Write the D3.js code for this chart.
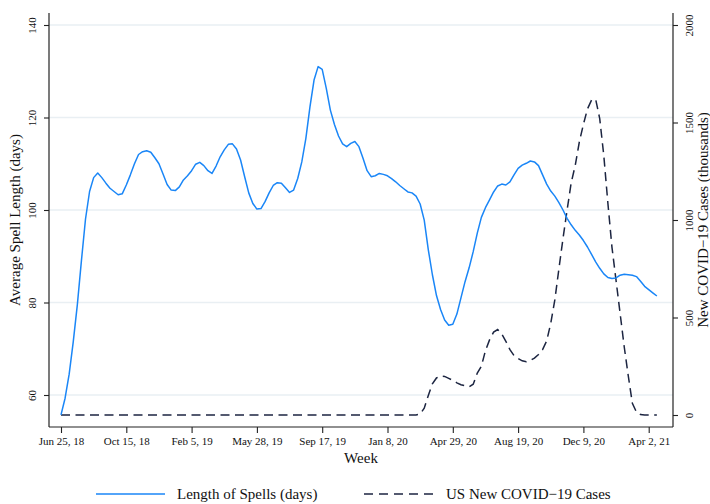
<!DOCTYPE html>
<html>
<head>
<meta charset="utf-8">
<script src="https://cdn.jsdelivr.net/npm/d3@7"></script>
<style>
  html, body { margin: 0; padding: 0; background: #fff; }
  svg { display: block; font-family: "Liberation Serif", "Times New Roman", serif; }
  svg text { font-family: "Liberation Serif", "Times New Roman", serif; }
</style>
</head>
<body>
<svg id="chart" width="710" height="504"></svg>
<script>
// Weekly series, starting the week of Jun 25, 2018
const spellLength = [
  55.7, 59.3, 64.5, 71.5, 79.5, 89.0, 98.0, 104.0, 107.0, 108.0,
  107.0, 105.8, 104.7, 104.0, 103.3, 103.5, 105.4, 107.6, 110.0, 112.0,
  112.6, 112.8, 112.5, 111.3, 110.0, 107.8, 105.5, 104.3, 104.2, 105.0,
  106.5, 107.4, 108.5, 109.9, 110.3, 109.6, 108.5, 107.9, 109.5, 111.5,
  113.0, 114.2, 114.3, 113.2, 110.8, 107.2, 103.7, 101.4, 100.2, 100.3,
  101.8, 103.7, 105.3, 105.9, 105.8, 104.8, 103.8, 104.3, 106.8, 110.4,
  115.5, 122.3, 128.1, 131.0, 130.4, 126.3, 121.6, 118.5, 116.0, 114.3,
  113.7, 114.4, 114.8, 113.7, 111.2, 108.5, 107.2, 107.4, 107.9, 107.7,
  107.4, 106.8, 106.1, 105.3, 104.6, 103.9, 103.7, 103.0, 101.3, 97.8,
  91.4, 86.0, 81.5, 78.5, 76.2, 75.1, 75.3, 77.5, 81.0, 84.5,
  87.5, 91.0, 95.0, 98.4, 100.5, 102.2, 103.9, 105.2, 105.6, 105.4,
  106.1, 107.6, 109.0, 109.7, 110.1, 110.6, 110.4, 109.6, 107.6, 105.6,
  104.1, 103.0, 101.6, 100.0, 98.2, 96.8, 95.6, 94.6, 93.4, 92.0,
  90.4, 88.8, 87.4, 86.2, 85.4, 85.2, 85.3, 85.9, 86.1, 86.0,
  85.9, 85.6, 84.6, 83.5, 82.8, 82.1, 81.4
];

// US new COVID-19 cases per week (thousands)
const covidCases = [
  0, 0, 0, 0, 0, 0, 0, 0, 0, 0,
  0, 0, 0, 0, 0, 0, 0, 0, 0, 0,
  0, 0, 0, 0, 0, 0, 0, 0, 0, 0,
  0, 0, 0, 0, 0, 0, 0, 0, 0, 0,
  0, 0, 0, 0, 0, 0, 0, 0, 0, 0,
  0, 0, 0, 0, 0, 0, 0, 0, 0, 0,
  0, 0, 0, 0, 0, 0, 0, 0, 0, 0,
  0, 0, 0, 0, 0, 0, 0, 0, 0, 0,
  0, 0, 0, 0, 0, 0, 0, 0, 5, 35,
  100, 160, 190, 200, 198, 188, 178, 165, 155, 150,
  145, 158, 215, 250, 330, 385, 425, 438, 415, 378,
  335, 305, 290, 278, 273, 280, 292, 310, 335, 380,
  470, 590, 750, 905, 1050, 1190, 1280, 1400, 1490, 1570,
  1615, 1620, 1520, 1330, 1086, 860, 690, 520, 350, 200,
  60, 15, 2, 0, 0, 0, 0
];

// Week axis: a label every 16 weeks
const weekTickIndex = [0, 16, 32, 48, 64, 80, 96, 112, 128, 144];
const weekTickLabels = ["Jun 25, 18", "Oct 15, 18", "Feb 5, 19", "May 28, 19", "Sep 17, 19",
                        "Jan 8, 20", "Apr 29, 20", "Aug 19, 20", "Dec 9, 20", "Apr 2, 21"];
const leftTicks = [60, 80, 100, 120, 140];
const rightTicks = [0, 500, 1000, 1500, 2000];

const seriesNames = ["Length of Spells (days)", "US New COVID\u221219 Cases"];
const blue = "#1a86f7";
const navy = "#1c2541";
const serif = "'Liberation Serif', 'Times New Roman', serif";

const svg = d3.select("#chart");
const plot = { left: 49, right: 673, top: 13, bottom: 427 };

const x = d3.scaleLinear().domain([0, 144]).range([61, 648.7]);
const yL = d3.scaleLinear().domain([60, 140]).range([395, 25]);
const yR = d3.scaleLinear().domain([0, 2000]).range([415, 25]);

// horizontal grid at left-axis ticks
svg.append("g").selectAll("line").data(leftTicks).join("line")
  .attr("x1", plot.left).attr("x2", plot.right)
  .attr("y1", d => yL(d)).attr("y2", d => yL(d))
  .attr("stroke", "#e9eff3").attr("stroke-width", 1.5);

// axis lines
const frame = svg.append("g").attr("stroke", "#222").attr("stroke-width", 1.2);
frame.append("line").attr("x1", plot.left).attr("x2", plot.left).attr("y1", plot.top).attr("y2", plot.bottom);
frame.append("line").attr("x1", plot.right).attr("x2", plot.right).attr("y1", plot.top).attr("y2", plot.bottom);
frame.append("line").attr("x1", plot.left).attr("x2", plot.right).attr("y1", plot.bottom).attr("y2", plot.bottom);

// left axis
const gL = svg.append("g").attr("transform", `translate(${plot.left},0)`)
  .call(d3.axisLeft(yL).tickValues(leftTicks).tickSize(5).tickPadding(0).tickFormat(d3.format("d")))
  .attr("font-family", serif);
gL.select(".domain").remove();
gL.selectAll(".tick line").attr("stroke", "#222").attr("stroke-width", 1.1);
gL.selectAll(".tick text")
  .attr("x", 0).attr("y", 0)
  .attr("transform", "translate(-13,0) rotate(-90)")
  .attr("text-anchor", "middle").attr("dy", "0")
  .style("font-size", "11px").attr("fill", "#111");

// right axis
const gR = svg.append("g").attr("transform", `translate(${plot.right},0)`)
  .call(d3.axisRight(yR).tickValues(rightTicks).tickSize(5).tickPadding(0).tickFormat(d3.format("d")))
  .attr("font-family", serif);
gR.select(".domain").remove();
gR.selectAll(".tick line").attr("stroke", "#222").attr("stroke-width", 1.1);
gR.selectAll(".tick text")
  .attr("x", 0).attr("y", 0)
  .attr("transform", "translate(19.5,0) rotate(-90)")
  .attr("text-anchor", "middle").attr("dy", "0")
  .style("font-size", "11px").attr("fill", "#111");

// bottom axis
const gX = svg.append("g").attr("transform", `translate(0,${plot.bottom})`)
  .call(d3.axisBottom(x).tickValues(weekTickIndex).tickSize(6).tickPadding(4)
    .tickFormat((d, i) => weekTickLabels[i]))
  .attr("font-family", serif);
gX.select(".domain").remove();
gX.selectAll(".tick line").attr("stroke", "#222").attr("stroke-width", 1.1);
gX.selectAll(".tick text").style("font-size", "11px").attr("fill", "#111");

// axis titles
svg.append("text").attr("transform", `translate(20,${(plot.top + plot.bottom) / 2}) rotate(-90)`)
  .attr("text-anchor", "middle").style("font-size", "15px").attr("fill", "#111")
  .text("Average Spell Length (days)");
svg.append("text").attr("transform", `translate(708,${(plot.top + plot.bottom) / 2}) rotate(-90)`)
  .attr("text-anchor", "middle").style("font-size", "15px").attr("fill", "#111")
  .text("New COVID\u221219 Cases (thousands)");
svg.append("text").attr("x", (plot.left + plot.right) / 2).attr("y", 463)
  .attr("text-anchor", "middle").style("font-size", "15px").attr("fill", "#111")
  .text("Week");

// series
const lineL = d3.line().x((d, i) => x(i)).y(d => yL(d));
const lineR = d3.line().x((d, i) => x(i)).y(d => yR(d));

svg.append("path").datum(covidCases).attr("d", lineR)
  .attr("fill", "none").attr("stroke", navy).attr("stroke-width", 1.5)
  .attr("stroke-dasharray", "9,5.5");
svg.append("path").datum(spellLength).attr("d", lineL)
  .attr("fill", "none").attr("stroke", blue).attr("stroke-width", 1.5)
  .attr("stroke-linejoin", "round");

// legend
const legend = svg.append("g");
legend.append("line").attr("x1", 96).attr("x2", 165).attr("y1", 494).attr("y2", 494)
  .attr("stroke", blue).attr("stroke-width", 1.5);
legend.append("text").attr("x", 177).attr("y", 499).style("font-size", "15px").attr("fill", "#111")
  .text(seriesNames[0]);
legend.append("line").attr("x1", 364).attr("x2", 437).attr("y1", 494).attr("y2", 494)
  .attr("stroke", navy).attr("stroke-width", 1.5).attr("stroke-dasharray", "9,6");
legend.append("text").attr("x", 446).attr("y", 499).style("font-size", "15px").attr("fill", "#111")
  .text(seriesNames[1]);
</script>
</body>
</html>
